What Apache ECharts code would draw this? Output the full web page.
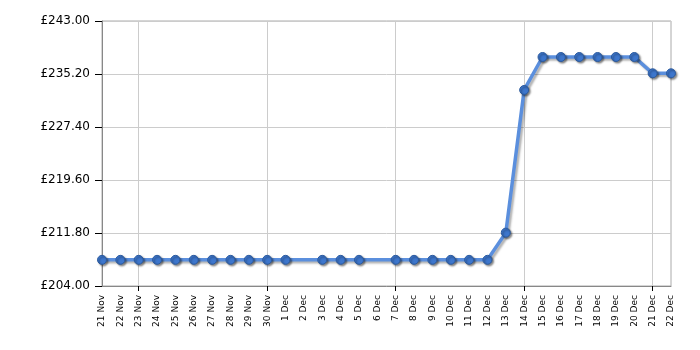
<!DOCTYPE html>
<html>
<head>
<meta charset="utf-8">
<script src="https://cdn.jsdelivr.net/npm/echarts@6/dist/echarts.min.js"></script>
<style>html,body{margin:0;padding:0;background:#fff}#c{width:700px;height:350px}</style>
</head>
<body>
<div id="c"></div>
<script>
const categories = ["21 Nov","22 Nov","23 Nov","24 Nov","25 Nov","26 Nov","27 Nov","28 Nov","29 Nov","30 Nov",
  "1 Dec","2 Dec","3 Dec","4 Dec","5 Dec","6 Dec","7 Dec","8 Dec","9 Dec","10 Dec","11 Dec","12 Dec",
  "13 Dec","14 Dec","15 Dec","16 Dec","17 Dec","18 Dec","19 Dec","20 Dec","21 Dec","22 Dec"];
const prices = [207.85,207.85,207.85,207.85,207.85,207.85,207.85,207.85,207.85,207.85,
  207.85,null,207.85,207.85,207.85,null,207.85,207.85,207.85,207.85,207.85,207.85,
  211.85,232.85,237.7,237.7,237.7,237.7,237.7,237.7,235.3,235.3];
const yMin = 204, yMax = 243, yStep = 7.8;

const chart = echarts.init(document.getElementById('c'), null, {renderer:'canvas'});
const gridIdx = (i) => i % 7 === 2;
chart.setOption({
  animation: false,
  grid: {left: 102, right: 29, top: 21, bottom: 64, show: true, borderColor: '#aaaaaa', borderWidth: 1},
  xAxis: {
    type: 'category', data: categories, boundaryGap: false,
    axisLine: {lineStyle: {color: '#888888', width: 1}},
    axisTick: {show: true, interval: gridIdx, length: 5, inside: false, lineStyle: {color: '#000'}},
    splitLine: {show: true, interval: gridIdx, lineStyle: {color: '#cccccc', width: 1}},
    axisLabel: {interval: 0, rotate: 90, fontFamily: 'DejaVu Sans', fontSize: 9, color: '#000', margin: 9}
  },
  yAxis: {
    type: 'value', min: yMin, max: yMax, interval: yStep,
    axisLine: {show: true, lineStyle: {color: '#888888'}},
    axisTick: {show: true, length: 7, lineStyle: {color: '#000'}},
    splitLine: {show: true, lineStyle: {color: '#cccccc'}},
    axisLabel: {fontFamily: 'DejaVu Sans', fontSize: 12, color: '#000', margin: 12,
      formatter: v => '£' + v.toFixed(2)}
  },
  series: [{
    type: 'line', data: prices, connectNulls: true,
    symbol: 'circle', symbolSize: 9, showSymbol: true,
    lineStyle: {color: '#5b8fdd', width: 3.5, shadowColor: 'rgba(0,0,0,0.3)', shadowBlur: 2, shadowOffsetX: 2, shadowOffsetY: 2},
    itemStyle: {color: '#3d76cc', borderColor: '#2b5a9e', borderWidth: 1,
      shadowColor: 'rgba(0,0,0,0.45)', shadowBlur: 2, shadowOffsetX: 1.5, shadowOffsetY: 1.5}
  }]
});
</script>
</body>
</html>
